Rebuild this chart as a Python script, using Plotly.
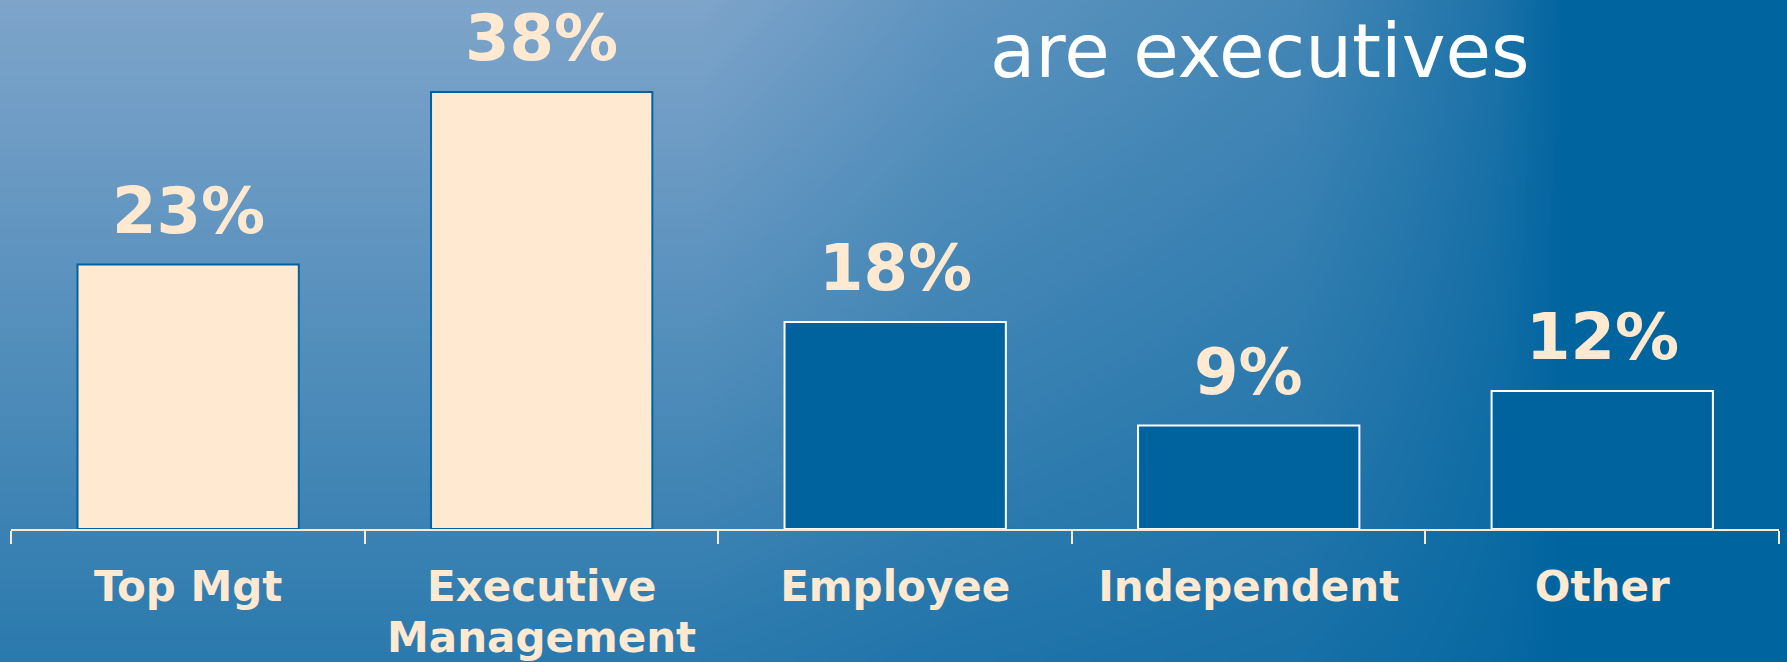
import base64
import struct
import zlib

import numpy as np
import plotly.graph_objects as go

# données du graphique
categories = ["Top Mgt", "Executive Management", "Employee", "Independent", "Other"]
tick_line1 = ["Top Mgt", "Executive", "Employee", "Independent", "Other"]
tick_line2 = ["", "Management", "", "", ""]
values = [23, 38, 18, 9, 12]
labels = ["23%", "38%", "18%", "9%", "12%"]
highlight = [True, True, False, False, False]

W, H = 1787, 662
CREAM = "#FFE9D0"
BLUE = "#00639E"


# fond en dégradé (image PNG générée en mémoire)
def gradient_png(w, h):
    xs = np.linspace(0, W, w)
    ys = np.linspace(0, H, h)
    X, Y = np.meshgrid(xs, ys)
    tv = 0.66 * Y / H
    th = np.interp(X, [0, 700, 950, 1300, 1400, 1500, 1570, W],
                   [0, 0, 0.25, 0.45, 0.6, 0.78, 1, 1])
    t = 1 - (1 - tv) * (1 - th)
    light = np.array([127, 165, 203])
    dark = np.array([0, 100, 159])
    img = (light[None, None, :] * (1 - t[..., None]) + dark[None, None, :] * t[..., None]).astype(np.uint8)
    raw = b"".join(b"\x00" + img[r].tobytes() for r in range(h))

    def chunk(tag, data):
        c = struct.pack(">I", len(data)) + tag + data
        return c + struct.pack(">I", zlib.crc32(tag + data) & 0xFFFFFFFF)

    png = b"\x89PNG\r\n\x1a\n"
    png += chunk(b"IHDR", struct.pack(">IIBBBBB", w, h, 8, 2, 0, 0, 0))
    png += chunk(b"IDAT", zlib.compress(raw, 9))
    png += chunk(b"IEND", b"")
    return "data:image/png;base64," + base64.b64encode(png).decode()


fig = go.Figure()
fig.add_trace(go.Bar(
    x=categories,
    y=values,
    marker=dict(
        color=[CREAM if h else BLUE for h in highlight],
        line=dict(color=[BLUE if h else "white" for h in highlight], width=2),
    ),
    hoverinfo="skip",
))

# étiquettes de valeur au-dessus des barres
for c, v, l in zip(categories, values, labels):
    fig.add_annotation(x=c, y=v, text=f"<b>{l}</b>", showarrow=False,
                       yanchor="bottom", yshift=15,
                       font=dict(family="DejaVu Sans", size=64, color=CREAM))

# deuxième ligne des libellés de catégorie
for c, l2 in zip(categories, tick_line2):
    if l2:
        fig.add_annotation(x=c, y=0, text=f"<b>{l2}</b>", showarrow=False,
                           yanchor="top", yshift=-82,
                           font=dict(family="DejaVu Sans", size=42, color=CREAM))

fig.add_annotation(x=1260 / W, y=1, xref="paper", yref="paper", text="are executives",
                   showarrow=False, xanchor="center", yanchor="top", yshift=-6,
                   font=dict(family="DejaVu Sans", size=74, color="white"))

fig.add_layout_image(dict(source=gradient_png(447, 166), xref="paper", yref="paper",
                          x=0, y=1, sizex=1, sizey=1, sizing="stretch",
                          xanchor="left", yanchor="top", layer="below"))

fig.update_layout(
    width=W, height=H,
    margin=dict(l=0, r=0, t=0, b=0, autoexpand=False),
    paper_bgcolor="#2B71A8",
    plot_bgcolor="rgba(0,0,0,0)",
    bargap=0.374,
    showlegend=False,
    font=dict(family="DejaVu Sans"),
)
fig.update_xaxes(
    domain=[11.4 / W, 1779 / W],
    showline=True, linecolor=CREAM, linewidth=2,
    ticks="outside", tickson="boundaries", ticklen=13, tickwidth=2, tickcolor=CREAM,
    tickfont=dict(family="DejaVu Sans", size=42, color=CREAM),
    tickvals=categories, ticktext=[f"<b>{t}</b>" for t in tick_line1],
    ticklabelstandoff=20,
    showgrid=False, fixedrange=True,
)
fig.update_yaxes(
    domain=[(H - 529) / H, 1], range=[0, 46],
    visible=False, showgrid=False, zeroline=False, fixedrange=True,
)

fig.write_html("out.html", config={"displayModeBar": False},
               post_script="document.body.style.margin='0';document.body.style.overflow='hidden';")
